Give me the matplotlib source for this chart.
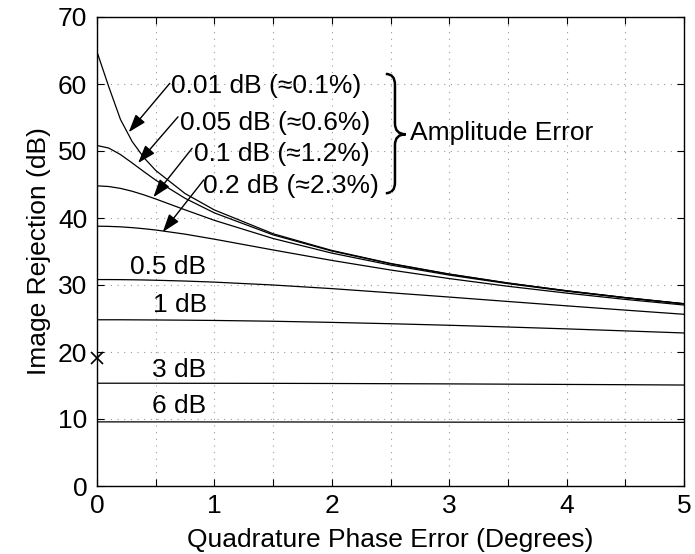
import matplotlib
matplotlib.use("Agg")
import matplotlib.pyplot as plt
from matplotlib.path import Path
from matplotlib.patches import PathPatch

# ---------------------------------------------------------------------------- #
# DATA

phase_deg = [0, 0.1, 0.2, 0.3, 0.4, 0.5, 0.75, 1, 1.5, 2, 2.5, 3, 3.5, 4, 4.5, 5]

irr_001db = [64.8, 59.6, 54.7, 51.4, 49.0, 47.1, 43.65, 41.2, 37.65, 35.16,
             33.22, 31.64, 30.30, 29.14, 28.12, 27.20]
irr_005db = [50.82, 50.44, 49.47, 48.21, 46.91, 45.65, 42.94, 40.76, 37.48, 35.07,
             33.17, 31.61, 30.29, 29.14, 28.12, 27.21]
irr_01db = [44.80, 44.70, 44.42, 43.99, 43.45, 42.84, 41.22, 39.65, 36.94, 34.76,
            32.98, 31.48, 30.20, 29.07, 28.08, 27.18]
irr_02db = [38.78, 38.75, 38.68, 38.56, 38.40, 38.21, 37.59, 36.84, 35.23, 33.67,
            32.24, 30.96, 29.81, 28.79, 27.85, 27.01]
irr_05db = [30.81, 30.81, 30.80, 30.78, 30.75, 30.71, 30.59, 30.43, 30.00, 29.46,
            28.84, 28.20, 27.54, 26.89, 26.25, 25.63]
irr_1db = [24.81, 24.81, 24.81, 24.80, 24.79, 24.78, 24.75, 24.71, 24.59, 24.42,
           24.22, 23.99, 23.73, 23.45, 23.15, 22.84]
irr_3db = [15.34, 15.34, 15.34, 15.34, 15.34, 15.34, 15.33, 15.33, 15.32, 15.30,
           15.27, 15.24, 15.20, 15.16, 15.12, 15.07]
irr_6db = [9.57, 9.57, 9.57, 9.57, 9.57, 9.57, 9.57, 9.56, 9.56, 9.55,
           9.54, 9.53, 9.52, 9.52, 9.51, 9.50]

curves = [irr_001db, irr_005db, irr_01db, irr_02db, irr_05db, irr_1db, irr_3db, irr_6db]

marker_point = (0, 19.1)

arrow_labels = ["0.01 dB (\u22480.1%)", "0.05 dB (\u22480.6%)",
                "0.1 dB (\u22481.2%)", "0.2 dB (\u22482.3%)"]
arrow_text_pos = [(0.63, 59.7), (0.71, 54.2), (0.83, 49.6), (0.90, 44.8)]
arrow_tips = [(0.27, 52.8), (0.35, 48.2), (0.48, 43.1), (0.56, 37.9)]
arrow_tails = [(0.62, 60.1), (0.69, 55.1), (0.81, 50.4), (0.91, 45.7)]

flat_labels = ["0.5 dB", "1 dB", "3 dB", "6 dB"]
flat_label_pos = [(0.28, 32.7), (0.48, 27.0), (0.47, 17.3), (0.47, 11.9)]

# ---------------------------------------------------------------------------- #
# FIGURE

plt.rcParams['font.family'] = ['Liberation Sans', 'DejaVu Sans']
FS = 19

fig = plt.figure(figsize=(6.95, 5.54), dpi=100)
ax = fig.add_axes([97 / 695, 68 / 554, 587 / 695, 469 / 554])

for c in curves:
    ax.plot(phase_deg, c, color='black', lw=0.9)

ax.plot(*marker_point, marker='x', color='black', ms=9, mew=1.2, clip_on=False)

# Arrow labels
for lab, tp, tip, tail in zip(arrow_labels, arrow_text_pos, arrow_tips, arrow_tails):
    ax.text(tp[0], tp[1], lab, fontsize=FS, ha='left', va='center')
    ax.annotate('', xy=tip, xytext=tail,
                arrowprops=dict(arrowstyle='-|>,head_length=0.5,head_width=0.17',
                                color='black', lw=1.0,
                                mutation_scale=22, shrinkA=0, shrinkB=0))

for lab, p in zip(flat_labels, flat_label_pos):
    ax.text(p[0], p[1], lab, fontsize=FS, ha='left', va='center')

# Curly brace
xv, xh, xt = 2.538, 2.46, 2.63
ytop, ybot, ymid = 61.5, 43.7, 52.5
verts = [(xh, ytop), (xv, ytop), (xv, ytop - 1.6),
         (xv, ymid + 1.6), (xv, ymid), (xt, ymid),
         (xv, ymid), (xv, ymid - 1.6),
         (xv, ybot + 1.6), (xv, ybot), (xh, ybot)]
codes = [Path.MOVETO, Path.CURVE3, Path.CURVE3,
         Path.LINETO, Path.CURVE3, Path.CURVE3,
         Path.CURVE3, Path.CURVE3,
         Path.LINETO, Path.CURVE3, Path.CURVE3]
ax.add_patch(PathPatch(Path(verts, codes), fill=False, lw=1.8, color='black'))
ax.text(2.67, 52.7, "Amplitude Error", fontsize=FS, ha='left', va='center')

# Axes styling
ax.set_xlim(0, 5)
ax.set_ylim(0, 70)
ax.set_xticks([i * 0.5 for i in range(11)])
ax.set_xticklabels([str(i // 2) if i % 2 == 0 else '' for i in range(11)])
ax.set_yticks(range(0, 71, 10))
ax.tick_params(direction='in', top=True, right=True, labelsize=FS, length=5,
               width=0.8)
ax.tick_params(axis='x', pad=6)
ax.tick_params(axis='y', pad=7)
ax.grid(True, linestyle=(0, (1, 5)), color='#999999', lw=0.8)
for s in ax.spines.values():
    s.set_linewidth(1.0)

ax.set_xlabel("Quadrature Phase Error (Degrees)", fontsize=FS, labelpad=7)
ax.set_ylabel("Image Rejection (dB)", fontsize=FS, labelpad=5)

fig.savefig("out.png", dpi=100)
